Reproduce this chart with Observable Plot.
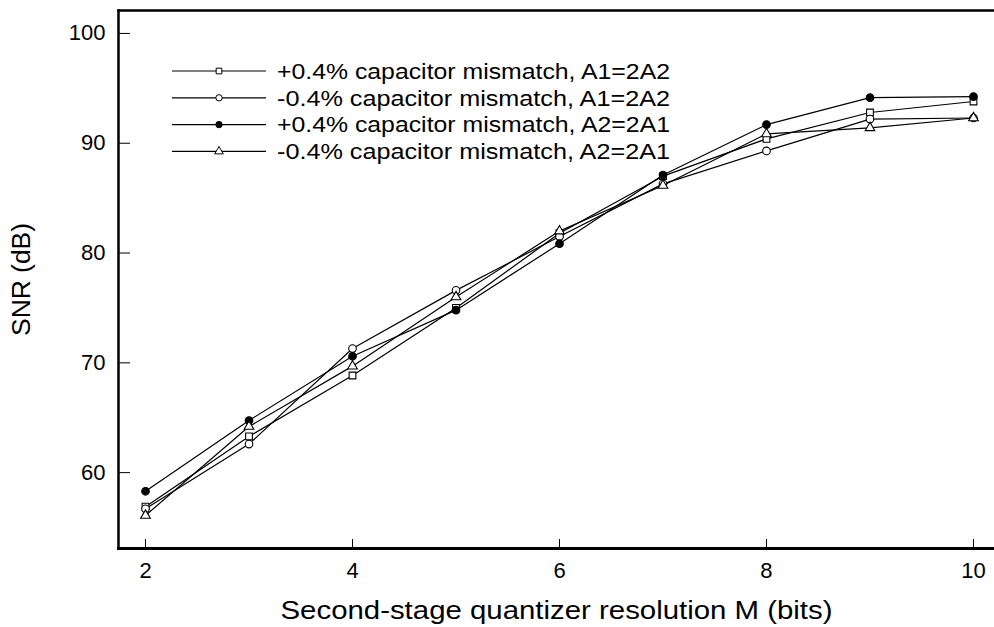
<!DOCTYPE html>
<html><head><meta charset="utf-8">
<script src="https://cdn.jsdelivr.net/npm/d3@7"></script>
<script src="https://cdn.jsdelivr.net/npm/@observablehq/plot@0.6"></script>
<style>
body{margin:0;background:#fff;}
#wrap{position:relative;width:994px;height:627px;font-family:"Liberation Sans",Arial,Helvetica,sans-serif;}
#legend{position:absolute;left:0;top:0;}
</style></head><body><div id="wrap"></div>
<script>
// ---- data ----
const bits = [2, 3, 4, 5, 6, 7, 8, 9, 10];
const seriesNames = [
  "+0.4% capacitor mismatch, A1=2A2",
  "-0.4% capacitor mismatch, A1=2A2",
  "+0.4% capacitor mismatch, A2=2A1",
  "-0.4% capacitor mismatch, A2=2A1"
];
const snrPlusA1  = [56.9, 63.3, 68.85, 75.0, 81.8, 87.0, 90.4, 92.8, 93.8];
const snrMinusA1 = [56.7, 62.6, 71.3, 76.6, 81.5, 86.3, 89.3, 92.2, 92.3];
const snrPlusA2  = [58.3, 64.75, 70.6, 74.8, 80.85, 87.1, 91.7, 94.15, 94.25];
const snrMinusA2 = [56.1, 64.2, 69.7, 76.0, 82.0, 86.15, 90.85, 91.4, 92.3];
const xTicks = [2, 4, 6, 8, 10];
const yTicks = [60, 70, 80, 90, 100];
const xLabel = "Second-stage quantizer resolution M (bits)";
const yLabel = "SNR (dB)";

// ---- styles ----
const symbols = ["square", "circle", "circle", "triangle"];
const fills = ["white", "white", "black", "white"];
const allSeries = [snrPlusA1, snrMinusA1, snrPlusA2, snrMinusA2];

const rows = [];
allSeries.forEach((vals, si) => vals.forEach((v, i) => rows.push({series: seriesNames[si], si, bits: bits[i], snr: v})));

const W = 994, H = 627;
const mL = 118, mR = 0, mT = 10, mB = 79;
const xDomain = [1.739, 10.203];
const yDomain = [53.09, 102.09];
const font = '"Liberation Sans", Arial, Helvetica, sans-serif';

const marks = [
  Plot.frame({anchor: "left", strokeWidth: 2.5}),
  Plot.frame({anchor: "bottom", strokeWidth: 3}),
  Plot.frame({anchor: "top", strokeWidth: 2.5}),
  Plot.tickX(xTicks, {x: d => d, insetTop: (H - mT - mB) - 9, strokeWidth: 1}),
  Plot.tickY(yTicks, {y: d => d, insetRight: (W - mL - mR) - 12, strokeWidth: 1}),
  Plot.axisX(xTicks, {tickSize: 0, tickPadding: 14, fontSize: 22, label: null}),
  Plot.axisX({ticks: [], tickSize: 0, fontSize: 25, label: xLabel, labelAnchor: "center", labelOffset: 70, labelArrow: "none"}),
  Plot.axisY(yTicks, {tickSize: 0, tickPadding: 13, fontSize: 22, label: null}),
  Plot.axisY({ticks: [], tickSize: 0, fontSize: 25, label: yLabel, labelAnchor: "center", labelOffset: 106, labelArrow: "none"}),
];
seriesNames.forEach((name, si) => {
  const d = rows.filter(r => r.si === si);
  marks.push(Plot.line(d, {x: "bits", y: "snr", stroke: "black", strokeWidth: 1.2}));
});
seriesNames.forEach((name, si) => {
  const d = rows.filter(r => r.si === si);
  marks.push(Plot.dot(d, {x: "bits", y: "snr", symbol: () => symbols[si], fill: fills[si], stroke: "black", strokeWidth: 1.1, r: si === 3 ? 3.6 : 3.8}));
});

const chart = Plot.plot({
  width: W, height: H,
  marginLeft: mL, marginRight: mR, marginTop: mT, marginBottom: mB,
  style: {fontFamily: font, color: "black", background: "white"},
  x: {domain: xDomain},
  y: {domain: yDomain},
  symbol: {type: "identity"},
  marks
});
document.getElementById("wrap").appendChild(chart);

// stretch axis titles horizontally to the reference's wider lettering
d3.select(chart).selectAll("text").each(function () {
  const t = this.textContent;
  if (t === xLabel) d3.select(this).attr("textLength", 552).attr("lengthAdjust", "spacingAndGlyphs");
  if (t === yLabel) d3.select(this).attr("textLength", 113).attr("lengthAdjust", "spacingAndGlyphs");
});

// ---- legend overlay ----
const lg = d3.select("#wrap").append("svg").attr("id", "legend").attr("width", W).attr("height", 200);
const lx0 = 172, lx1 = 266, lmx = 219, ltx = 277, ly0 = 71, ldy = 26.8;
seriesNames.forEach((name, si) => {
  const y = ly0 + si * ldy;
  lg.append("line").attr("x1", lx0).attr("x2", lx1).attr("y1", y).attr("y2", y).attr("stroke", "black").attr("stroke-width", 1.2);
  const symType = {square: d3.symbolSquare, circle: d3.symbolCircle, triangle: d3.symbolTriangle}[symbols[si]];
  lg.append("path").attr("d", d3.symbol(symType, Math.PI * 3.2 * 3.2)()).attr("transform", `translate(${lmx},${y})`)
    .attr("fill", fills[si]).attr("stroke", "black").attr("stroke-width", 1);
  lg.append("text").attr("x", ltx).attr("y", y).attr("dy", "0.35em").attr("font-size", 22.5).attr("font-family", font)
    .attr("textLength", 393).attr("lengthAdjust", "spacingAndGlyphs").text(name);
});
</script>
</body></html>
